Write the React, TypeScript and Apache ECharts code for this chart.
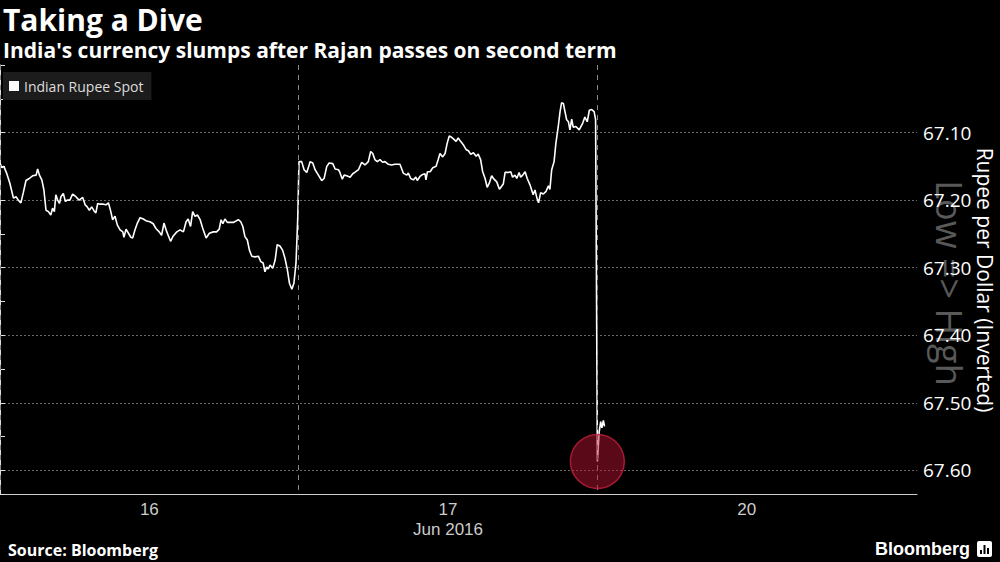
import React, { useEffect, useRef } from "react";
import * as echarts from "echarts";

// Trading-day position (0 = start of Jun 16 session, 1 = Jun 17, 2 = Jun 20)
const dayPos = [
  0, 0.006, 0.013, 0.022, 0.033, 0.045, 0.054, 0.061, 0.070, 0.078,
  0.087, 0.098, 0.109, 0.121, 0.126, 0.132, 0.140, 0.147, 0.154, 0.162,
  0.170, 0.176, 0.182, 0.187, 0.193, 0.199, 0.204, 0.212, 0.219, 0.225,
  0.234, 0.243, 0.254, 0.265, 0.277, 0.285, 0.292, 0.299, 0.307, 0.315,
  0.321, 0.327, 0.335, 0.346, 0.355, 0.363, 0.371, 0.377, 0.385, 0.393,
  0.402, 0.411, 0.415, 0.422, 0.430, 0.438, 0.444, 0.452, 0.460, 0.469,
  0.480, 0.491, 0.502, 0.513, 0.522, 0.533, 0.541, 0.549, 0.556, 0.563,
  0.571, 0.580, 0.592, 0.603, 0.614, 0.623, 0.630, 0.638, 0.645, 0.653,
  0.661, 0.670, 0.679, 0.690, 0.701, 0.714, 0.725, 0.734, 0.740, 0.746,
  0.753, 0.761, 0.770, 0.781, 0.790, 0.798, 0.806, 0.813, 0.820, 0.828,
  0.835, 0.843, 0.854, 0.865, 0.873, 0.881, 0.887, 0.893, 0.898, 0.904,
  0.913, 0.921, 0.928, 0.937, 0.946, 0.954, 0.962, 0.969, 0.977, 0.984,
  0.991, 0.997, 1.001,
  1.010, 1.018, 1.027, 1.035, 1.038, 1.047, 1.055, 1.066, 1.077, 1.085,
  1.094, 1.102, 1.114, 1.122, 1.133, 1.138, 1.146, 1.152, 1.161, 1.172,
  1.181, 1.188, 1.200, 1.211, 1.222, 1.233, 1.241, 1.248, 1.255, 1.263,
  1.272, 1.281, 1.289, 1.300, 1.311, 1.322, 1.339, 1.350, 1.362, 1.367,
  1.375, 1.384, 1.392, 1.397, 1.406, 1.415, 1.423, 1.426, 1.431, 1.440,
  1.449, 1.460, 1.467, 1.473, 1.482, 1.490, 1.497, 1.504, 1.512, 1.520,
  1.527, 1.534, 1.542, 1.551, 1.560, 1.568, 1.576, 1.585, 1.594, 1.601,
  1.609, 1.616, 1.624, 1.631, 1.638, 1.646, 1.654, 1.663, 1.672, 1.680,
  1.685, 1.691, 1.702, 1.710, 1.716, 1.724, 1.730, 1.738, 1.743, 1.750,
  1.758, 1.765, 1.774, 1.780, 1.785, 1.791, 1.797, 1.803, 1.810, 1.819,
  1.828, 1.836, 1.841, 1.847, 1.855, 1.861, 1.869, 1.875, 1.880, 1.886,
  1.892, 1.897, 1.903, 1.908, 1.914, 1.919, 1.928, 1.939, 1.951, 1.958,
  1.966, 1.973, 1.981, 1.989, 1.994,
  2.000, 2.006, 2.011, 2.015, 2.020, 2.024,
];

// Indian Rupee spot, rupees per dollar
const spotRate = [
  67.145, 67.152, 67.150, 67.160, 67.175, 67.197, 67.195, 67.200, 67.204, 67.189,
  67.171, 67.168, 67.164, 67.163, 67.154, 67.163, 67.170, 67.185, 67.215, 67.217,
  67.222, 67.212, 67.217, 67.192, 67.200, 67.205, 67.195, 67.190, 67.202, 67.200,
  67.200, 67.191, 67.195, 67.200, 67.196, 67.207, 67.210, 67.215, 67.210, 67.216,
  67.219, 67.205, 67.206, 67.206, 67.207, 67.204, 67.217, 67.229, 67.224, 67.237,
  67.244, 67.247, 67.255, 67.243, 67.249, 67.255, 67.256, 67.244, 67.234, 67.226,
  67.228, 67.231, 67.232, 67.235, 67.242, 67.247, 67.252, 67.234, 67.244, 67.252,
  67.261, 67.253, 67.247, 67.244, 67.247, 67.232, 67.228, 67.239, 67.217, 67.224,
  67.222, 67.229, 67.242, 67.256, 67.249, 67.247, 67.247, 67.243, 67.229, 67.235,
  67.228, 67.233, 67.233, 67.233, 67.231, 67.229, 67.232, 67.239, 67.254, 67.259,
  67.274, 67.283, 67.284, 67.283, 67.291, 67.293, 67.306, 67.299, 67.302, 67.296,
  67.301, 67.289, 67.266, 67.268, 67.274, 67.286, 67.303, 67.323, 67.332, 67.323,
  67.293, 67.224, 67.143,
  67.143, 67.155, 67.159, 67.148, 67.143, 67.145, 67.155, 67.163, 67.171, 67.168,
  67.150, 67.145, 67.146, 67.154, 67.155, 67.159, 67.169, 67.163, 67.164, 67.166,
  67.161, 67.159, 67.155, 67.144, 67.148, 67.143, 67.128, 67.131, 67.140, 67.143,
  67.140, 67.144, 67.143, 67.147, 67.148, 67.147, 67.147, 67.160, 67.163, 67.160,
  67.168, 67.170, 67.166, 67.171, 67.165, 67.162, 67.161, 67.170, 67.158, 67.158,
  67.152, 67.150, 67.140, 67.131, 67.136, 67.131, 67.116, 67.105, 67.107, 67.110,
  67.113, 67.108, 67.113, 67.118, 67.125, 67.127, 67.132, 67.130, 67.135, 67.132,
  67.140, 67.158, 67.168, 67.181, 67.175, 67.164, 67.169, 67.173, 67.184, 67.179,
  67.176, 67.159, 67.159, 67.158, 67.166, 67.163, 67.168, 67.159, 67.166, 67.163,
  67.158, 67.168, 67.177, 67.185, 67.192, 67.185, 67.196, 67.204, 67.189, 67.191,
  67.187, 67.179, 67.184, 67.155, 67.143, 67.116, 67.091, 67.069, 67.056, 67.057,
  67.070, 67.081, 67.084, 67.096, 67.080, 67.092, 67.091, 67.096, 67.086, 67.077,
  67.084, 67.067, 67.066, 67.069, 67.081,
  67.587, 67.543, 67.528, 67.537, 67.526, 67.535,
];

const seriesName = "Indian Rupee Spot";
const highlightPoint = [2.0, 67.587];
const dayBoundaries = [0, 1, 2];
const dayLabelPos = ["0.5", "1.5", "2.5"];
const dayLabelText = ["16", "17\nJun 2016", "20"];

const titleText = "Taking a Dive";
const subtitleText = "India's currency slumps after Rajan passes on second term";
const axisName = "Rupee per Dollar (Inverted)";
const watermarkText = "Low => High";
const sourceText = "Source: Bloomberg";
const brandText = "Bloomberg";

export default function App() {
  const ref = useRef<HTMLDivElement>(null);

  useEffect(() => {
    if (!ref.current) return;
    const chart = echarts.init(ref.current, null, { renderer: "svg" });
    const lineData = dayPos.map((x, i) => [x, spotRate[i]]);

    const option = {
      animation: false,
      backgroundColor: "#000000",
      grid: {
        left: 0,
        right: 83,
        top: 65,
        bottom: 68,
        containLabel: false,
        outerBoundsMode: "none",
      },
      legend: {
        data: [seriesName],
        left: 3,
        top: 72,
        padding: [7, 8, 7, 6],
        backgroundColor: "#1c1c1c",
        icon: "rect",
        itemWidth: 10,
        itemHeight: 10,
        itemGap: 6,
        selectedMode: false,
        textStyle: { color: "#dddddd", fontSize: 14, fontFamily: "Open Sans" },
      },
      xAxis: {
        type: "value",
        min: 0,
        max: 3.07,
        interval: 0.5,
        axisLine: { show: true, lineStyle: { color: "#cccccc", width: 1 } },
        axisTick: { show: false },
        splitLine: { show: false },
        axisLabel: {
          color: "#cccccc",
          fontSize: 17,
          lineHeight: 20,
          margin: 5,
          fontFamily: "Liberation Sans Narrow, Liberation Sans, sans-serif",
          formatter: (v: number) => {
            const k = (Math.round(v * 10) / 10).toFixed(1);
            const idx = dayLabelPos.indexOf(k);
            return idx >= 0 ? dayLabelText[idx] : "";
          },
        },
      },
      yAxis: {
        type: "value",
        position: "right",
        inverse: true,
        min: 67.0,
        max: 67.635,
        interval: 0.1,
        axisLine: { show: true, lineStyle: { color: "#dddddd", width: 1 } },
        axisTick: { show: true, length: 5, lineStyle: { color: "#dddddd" } },
        minorTick: { show: true, splitNumber: 2, length: 5, lineStyle: { color: "#dddddd" } },
        splitLine: {
          show: true,
          showMinLine: false,
          showMaxLine: false,
          lineStyle: { color: "#6a6a6a", type: [2, 2], width: 1 },
        },
        axisLabel: {
          color: "#ffffff",
          fontSize: 19,
          margin: 6,
          fontFamily: "Open Sans",
          formatter: (v: number) => {
            if (Math.abs(v * 10 - Math.round(v * 10)) > 1e-6) return "";
            if (v < 67.05 || v > 67.62) return "";
            return v.toFixed(2);
          },
        },
      },
      series: [
        {
          name: seriesName,
          type: "line",
          data: lineData,
          showSymbol: false,
          symbol: "none",
          color: "#ffffff",
          lineStyle: { color: "#ffffff", width: 1.6 },
          z: 2,
          markLine: {
            silent: true,
            symbol: ["none", "none"],
            label: { show: false },
            lineStyle: { color: "#8a8a8a", type: [5, 5], width: 1 },
            data: dayBoundaries.map((d) => ({ xAxis: d })),
          },
        },
        {
          name: "highlight",
          type: "scatter",
          data: [highlightPoint],
          symbol: "circle",
          symbolSize: 54,
          silent: true,
          itemStyle: {
            color: "rgba(185, 18, 48, 0.6)",
            borderColor: "#c41f3c",
            borderWidth: 1.5,
          },
          z: 5,
        },
      ],
      graphic: [
        {
          type: "text",
          x: 949,
          y: 283,
          rotation: -Math.PI / 2,
          z: -1,
          style: {
            text: watermarkText,
            fill: "#595959",
            fontSize: 36,
            fontFamily: "Open Sans",
            align: "center",
            verticalAlign: "middle",
          },
        },
        {
          type: "text",
          x: 985,
          y: 280,
          rotation: -Math.PI / 2,
          style: {
            text: axisName,
            fill: "#ffffff",
            fontSize: 21,
            fontFamily: "Open Sans",
            align: "center",
            verticalAlign: "middle",
          },
        },
        {
          type: "text",
          x: 3,
          y: 19,
          style: {
            text: titleText,
            fill: "#ffffff",
            fontSize: 30,
            fontWeight: "bold",
            fontFamily: "Open Sans",
            verticalAlign: "middle",
          },
        },
        {
          type: "text",
          x: 3,
          y: 50,
          style: {
            text: subtitleText,
            fill: "#ffffff",
            fontSize: 21,
            fontWeight: "bold",
            fontFamily: "Open Sans",
            verticalAlign: "middle",
          },
        },
        {
          type: "text",
          x: 8,
          y: 550,
          style: {
            text: sourceText,
            fill: "#ffffff",
            fontSize: 16,
            fontWeight: "bold",
            fontFamily: "Open Sans",
            verticalAlign: "middle",
          },
        },
        {
          type: "text",
          x: 970,
          y: 549,
          style: {
            text: brandText,
            fill: "#ffffff",
            fontSize: 18,
            fontWeight: "bold",
            fontFamily: "Liberation Sans",
            align: "right",
            verticalAlign: "middle",
          },
        },
        {
          type: "group",
          x: 977,
          y: 541,
          children: [
            { type: "rect", shape: { x: 0, y: 0, width: 15, height: 16, r: 2 }, style: { fill: "#ffffff" } },
            { type: "rect", shape: { x: 3, y: 9, width: 2, height: 4 }, style: { fill: "#000000" } },
            { type: "rect", shape: { x: 6.5, y: 4, width: 2, height: 9 }, style: { fill: "#000000" } },
            { type: "rect", shape: { x: 10, y: 7, width: 2, height: 6 }, style: { fill: "#000000" } },
          ],
        },
      ],
    };

    chart.setOption(option as any);
    return () => chart.dispose();
  }, []);

  return (
    <div
      ref={ref}
      style={{ position: "fixed", left: 0, top: 0, width: 1000, height: 562, background: "#000" }}
    />
  );
}
